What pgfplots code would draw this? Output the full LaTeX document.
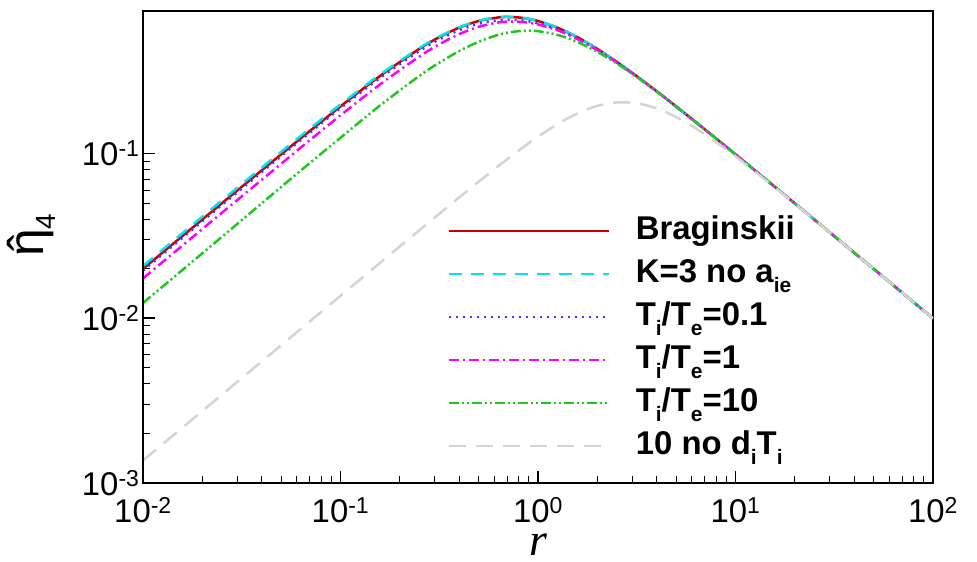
\documentclass[border=0pt]{standalone}
\usepackage{fontspec}
\setmainfont{Liberation Sans}
\newfontfamily\seriffont{Liberation Serif}
\usepackage{amsmath}
\usepackage{pgfplots}
\usepackage{pgfplotstable}
\pgfplotsset{compat=1.18}
\definecolor{cbrag}{RGB}{200,0,0}
\definecolor{ckthree}{RGB}{0,228,236}
\definecolor{cti01}{RGB}{58,58,255}
\definecolor{cti1}{RGB}{255,0,255}
\definecolor{cti10}{RGB}{30,200,30}
\definecolor{cnodi}{RGB}{212,212,212}
\newcommand\sub[1]{\raisebox{-0.3em}{\fontsize{21}{21}\selectfont #1}}

% columns: r, Braginskii, K=3 no a_ie, Ti/Te=0.1, Ti/Te=1, Ti/Te=10, 10 no d_iT_i
\pgfplotstableread{
r       brag     kthree   ti01     ti1      ti10     nodi
0.01    0.01997  0.02077  0.01947  0.01747  0.01238  0.00137
0.01585 0.03162  0.03287  0.03083  0.02767  0.01967  0.002171
0.02512 0.05001  0.05196  0.04876  0.04376  0.03126  0.003441
0.03981 0.07895  0.0819   0.07698  0.06908  0.04974  0.005454
0.0631  0.1242   0.1284   0.1211   0.1090   0.07912  0.008644
0.1     0.1935   0.1989   0.1887   0.1707   0.1248   0.013695
0.1585  0.2959   0.3015   0.2876   0.2628   0.1959   0.02169
0.2512  0.4332   0.4377   0.4202   0.3890   0.2967   0.0343
0.3162  0.509    0.5128   0.4929   0.4606   0.3563   0.04308
0.3981  0.581    0.584    0.5608   0.5305   0.4183   0.05403
0.5012  0.6387   0.6408   0.6151   0.5889   0.4777   0.06756
0.631   0.671    0.6724   0.6455   0.6254   0.5267   0.0841
0.7079  0.6751   0.6763   0.6494   0.6326   0.5435   0.09356
0.7943  0.6708   0.6717   0.6460   0.6319   0.5534   0.10384
0.8913  0.6582   0.6588   0.6358   0.6233   0.5575   0.1149
1       0.638    0.6386   0.6189   0.6080   0.5538   0.1266
1.259   0.5804   0.5804   0.5659   0.5601   0.5253   0.1513
1.585   0.5083   0.5083   0.4981   0.4956   0.4753   0.1753
1.995   0.4324   0.4324   0.4259   0.4255   0.4151   0.1947
2.512   0.36     0.36     0.3564   0.3564   0.3517   0.2044
3.162   0.2952   0.2952   0.2934   0.2937   0.2917   0.2021
3.981   0.2396   0.2396   0.2389   0.2391   0.2384   0.1883
5.012   0.1931   0.1931   0.1927   0.1931   0.1927   0.1667
6.31    0.1549   0.1549   0.1549   0.1549   0.1549   0.1420
7.943   0.1239   0.1239   0.1239   0.1239   0.1239   0.1179
10      0.09885  0.09885  0.09885  0.09885  0.09885  0.0962
15.85   0.06271  0.06271  0.06271  0.06271  0.06271  0.0622
25.12   0.03967  0.03967  0.03967  0.03967  0.03967  0.03959
39.81   0.02507  0.02507  0.02507  0.02507  0.02507  0.02505
63.1    0.01583  0.01583  0.01583  0.01583  0.01583  0.01582
100     0.009993 0.009993 0.009993 0.009993 0.009993 0.009985
}\etadata

\begin{document}
\begin{tikzpicture}
\begin{axis}[
  scale only axis, width=790bp, height=472bp,
  xmode=log, ymode=log,
  xmin=0.01, xmax=100, ymin=0.001, ymax=0.734,
  tick pos=left, tick align=inside,
  major tick length=12bp, minor tick length=7bp,
  every major tick/.style={line width=1.8bp,black},
  every minor tick/.style={line width=1bp,black},
  axis line style={line width=1.2bp},
  xtick={0.01,0.1,1,10,100},
  xticklabels={10\textsuperscript{-2},10\textsuperscript{-1},10\textsuperscript{0},10\textsuperscript{1},10\textsuperscript{2}},
  ytick={0.001,0.01,0.1},
  yticklabels={10\textsuperscript{-3},10\textsuperscript{-2},10\textsuperscript{-1}},
  ticklabel style={font=\fontsize{33}{38}\selectfont},
  xticklabel style={inner sep=1bp,yshift=-13bp},
  xlabel={\seriffont\itshape r},
  xlabel style={at={(axis description cs:0.5,-0.131)},anchor=center,inner sep=0pt,font=\fontsize{46}{48}\selectfont},
  ylabel={\ooalign{η\cr\hidewidth ˆ\hidewidth\cr}\raisebox{-0.25em}{\fontsize{28}{28}\selectfont 4}},
  ylabel style={at={(axis description cs:-0.135,0.525)},anchor=center,font=\fontsize{50}{56}\selectfont},
  legend image code/.code={\draw[#1] (0bp,0bp) -- (160bp,0bp); \path (186bp,0bp);},
  legend style={draw=none,fill=none,at={(axis description cs:0.385,0.572)},anchor=north west,
    inner sep=0pt,row sep=7bp,font=\bfseries\fontsize{33}{38}\selectfont,
    nodes={inner sep=0pt,text height=26bp,text depth=10bp}},
  legend cell align=left,
]
\addplot[cbrag,line width=2.5bp,smooth] table[x=r,y=brag]{\etadata};
\addlegendentry{Braginskii}
\addplot[ckthree,line width=2.5bp,smooth,dash pattern=on 13bp off 9bp] table[x=r,y=kthree]{\etadata};
\addlegendentry{K=3 no a\sub{ie}}
\addplot[cti01,line width=2.5bp,smooth,dash pattern=on 2bp off 5bp] table[x=r,y=ti01]{\etadata};
\addlegendentry{T\sub{i}/T\sub{e}=0.1}
\addplot[cti1,line width=2.5bp,smooth,dash pattern=on 10bp off 4bp on 2bp off 4bp] table[x=r,y=ti1]{\etadata};
\addlegendentry{T\sub{i}/T\sub{e}=1}
\addplot[cti10,line width=2.5bp,smooth,dash pattern=on 10bp off 3bp on 2bp off 3bp on 2bp off 3bp] table[x=r,y=ti10]{\etadata};
\addlegendentry{T\sub{i}/T\sub{e}=10}
\addplot[cnodi,line width=2.5bp,smooth,dash pattern=on 17bp off 10bp] table[x=r,y=nodi]{\etadata};
\addlegendentry{10 no d\sub{i}T\sub{i}}
\draw[line width=2.4bp,black] (rel axis cs:0,1) -- (rel axis cs:0,0) -- (rel axis cs:1,0);
\coordinate (O) at (rel axis cs:0,0);
\end{axis}
\pgfresetboundingbox
\path ([shift={(-143bp,-79bp)}]O) rectangle ([shift={(834bp,483bp)}]O);
\end{tikzpicture}
\end{document}
